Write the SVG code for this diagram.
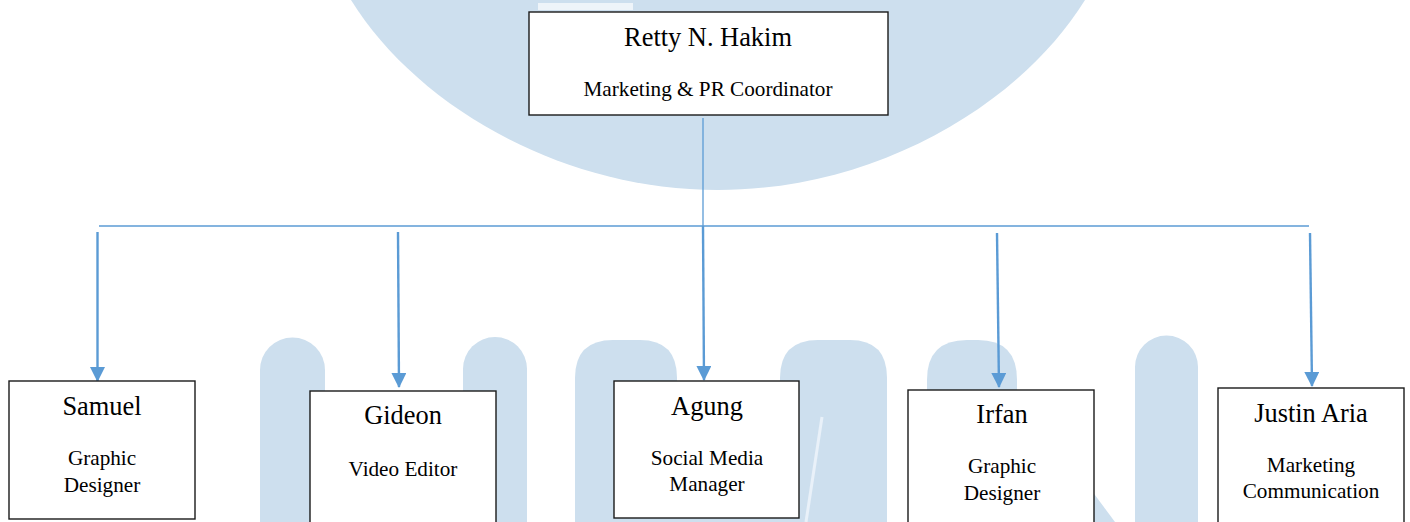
<svg xmlns="http://www.w3.org/2000/svg" width="1410" height="522" viewBox="0 0 1410 522">
  <style>
    .wm { fill: #CDDFEE; }
    .box { fill: #FFFFFF; stroke: #1A1A1A; stroke-width: 1.4; }
    .name { font-family: "Liberation Serif", "Times New Roman", serif; font-size: 26.4px; fill: #000; text-anchor: middle; }
    .role { font-family: "Liberation Serif", "Times New Roman", serif; font-size: 21.2px; fill: #000; text-anchor: middle; }
    .thin { stroke: #5B9BD5; stroke-width: 1.3; fill: none; }
    .arrow { stroke: #5B9BD5; stroke-width: 2.4; fill: none; marker-end: url(#head); }
  </style>
  <defs>
    <marker id="head" viewBox="0 0 15 15" refX="14" refY="7.5" markerWidth="15" markerHeight="15" markerUnits="userSpaceOnUse" orient="auto">
      <path d="M0,0 L15,7.5 L0,15 Z" fill="#5B9BD5"/>
    </marker>
  </defs>

  <rect width="1410" height="522" fill="#FFFFFF"/>

  <!-- background logo watermark -->
  <g id="watermark">
    <path class="wm" d="M351,0 C416,105 560,190 718,190 C876,190 1020,105 1085,0 Z"/>
    <rect x="538" y="3" width="95" height="7" fill="#EEF4F9"/>
    <!-- U -->
    <path class="wm" d="M260,522 V370 A32.5,32.5 0 0 1 325,370 V522 Z"/>
    <path class="wm" d="M463,522 V369 A32,32 0 0 1 527,369 V522 Z"/>
    <!-- M -->
    <path class="wm" d="M575,522 V378 Q575,340 613,340 H640 Q677,340 677,378 V522 Z"/>
    <path class="wm" d="M677,430 L780,430 L780,522 L677,522 Z"/>
    <path class="wm" d="M780,522 V378 Q780,340 818,340 H850 Q887,340 887,378 V522 Z"/>
    <path d="M822,417 L806,522" stroke="#E9F1F9" stroke-width="3" fill="none"/>
    <!-- N -->
    <path class="wm" d="M927,522 V380 Q927,340 967,340 H978 Q1017,340 1017,380 V522 Z"/>
    <path class="wm" d="M940,400 L1017,390 L1115,522 L1000,522 Z"/>
    <path class="wm" d="M1135,522 V367 A31.5,31.5 0 0 1 1198,367 V522 Z"/>
  </g>

  <!-- connectors -->
  <g id="connectors">
    <line class="thin" x1="703" y1="118" x2="703" y2="226"/>
    <line class="thin" x1="99" y1="226" x2="1309" y2="226"/>
    <line class="arrow" x1="97.5" y1="232" x2="97.5" y2="381"/>
    <line class="arrow" x1="398" y1="232" x2="399" y2="387"/>
    <line class="arrow" x1="703" y1="226" x2="704" y2="380"/>
    <line class="arrow" x1="997" y1="233" x2="999" y2="387"/>
    <line class="arrow" x1="1310" y1="233" x2="1312" y2="386"/>
  </g>

  <g id="node-retty">
    <rect class="box" x="529" y="12" width="359" height="103"/>
    <text class="name" x="708" y="46">Retty N. Hakim</text>
    <text class="role" x="708" y="96">Marketing &amp; PR Coordinator</text>
  </g>

  <g id="node-samuel">
    <rect class="box" x="9" y="381" width="186" height="138"/>
    <text class="name" x="102" y="415">Samuel</text>
    <text class="role" x="102" y="465">Graphic</text>
    <text class="role" x="102" y="492">Designer</text>
  </g>

  <g id="node-gideon">
    <rect class="box" x="310" y="391" width="186" height="140"/>
    <text class="name" x="403" y="424">Gideon</text>
    <text class="role" x="403" y="476">Video Editor</text>
  </g>

  <g id="node-agung">
    <rect class="box" x="614" y="381" width="185" height="137"/>
    <text class="name" x="707" y="415">Agung</text>
    <text class="role" x="707" y="465">Social Media</text>
    <text class="role" x="707" y="491">Manager</text>
  </g>

  <g id="node-irfan">
    <rect class="box" x="908" y="390" width="186" height="140"/>
    <text class="name" x="1002" y="423">Irfan</text>
    <text class="role" x="1002" y="473">Graphic</text>
    <text class="role" x="1002" y="500">Designer</text>
  </g>

  <g id="node-justin">
    <rect class="box" x="1218" y="388" width="186" height="142"/>
    <text class="name" x="1311" y="422">Justin Aria</text>
    <text class="role" x="1311" y="472">Marketing</text>
    <text class="role" x="1311" y="498">Communication</text>
  </g>
</svg>
